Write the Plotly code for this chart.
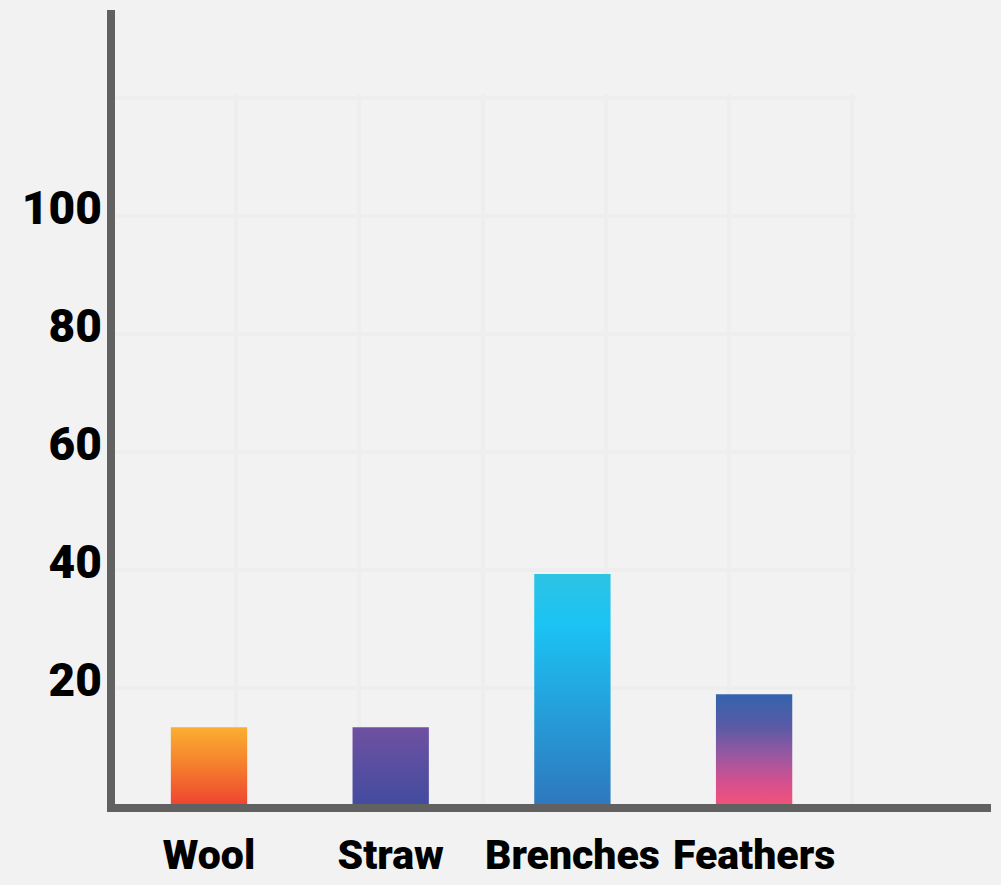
import plotly.graph_objects as go

# ---------------- data ----------------
categories = ["Wool", "Straw", "Brenches", "Feathers"]
values = [13, 13, 39, 18.6]
y_tick_values = [20, 40, 60, 80, 100]
y_tick_labels = ["20", "40", "60", "80", "100"]

# vertical gradients (0 = bottom of bar, 1 = top of bar)
bar_colorscales = [
    [[0, "#EF4531"], [0.5, "#F57E2D"], [1, "#FBAF31"]],
    [[0, "#434C9F"], [1, "#6F50A1"]],
    [[0, "#2E78BE"], [0.45, "#24A3DD"], [0.78, "#1BC3F3"], [1, "#2DC3E5"]],
    [[0, "#F2527A"], [0.2, "#D3508F"], [0.45, "#9858A2"], [0.7, "#5A5AA5"], [1, "#3463AE"]],
]

# ---------------- style ----------------
BG = "#F2F2F2"
AXIS = "#616161"
GRID = "#EEEEEE"
W, H = 1001, 885
L, R, T, B = 115, 10, 10, 81
PW, PH = W - L - R, H - T - B
BAR_WIDTH = 0.42
FAMILY = "Roboto, 'Open Sans', sans-serif"
XFONT = dict(family=FAMILY, size=41, color="#000000", weight=900)
YFONT = dict(family=FAMILY, size=46, color="#000000", weight=900)

fig = go.Figure()

# invisible trace so the decorative grid subplot exists (drawn underneath)
fig.add_trace(go.Scatter(x=[None], y=[None], xaxis="x", yaxis="y",
                         showlegend=False, hoverinfo="skip"))

# gradient bars
for i, (cat, v, cs) in enumerate(zip(categories, values, bar_colorscales)):
    h = BAR_WIDTH / 2
    fig.add_trace(go.Scatter(
        x=[i - h, i + h, i + h, i - h, i - h],
        y=[0, 0, v, v, 0],
        mode="lines", fill="toself",
        fillgradient=dict(type="vertical", colorscale=cs),
        line=dict(width=0, color="rgba(0,0,0,0)"),
        xaxis="x2", yaxis="y2", name=cat, showlegend=False,
        hoverinfo="skip",
    ))

# grid geometry (pixels) -> domains/ranges
gx0, gx1, gstep_x = 113, 856, (852 - 113) / 6
gy0, gy1, gstep_y = 806, 94, (806 - 98) / 6

unit_x = 181.7
first_center = 209
unit_y = 5.9

fig.update_layout(
    width=W, height=H,
    margin=dict(l=L, r=R, t=T, b=B, pad=0, autoexpand=False),
    paper_bgcolor=BG, plot_bgcolor="rgba(0,0,0,0)",
    showlegend=False,
    font=XFONT,
    xaxis=dict(
        domain=[0, (gx1 - L) / PW],
        range=[(L - gx0) / gstep_x, (gx1 - gx0) / gstep_x],
        tick0=0, dtick=1, showgrid=True, gridcolor=GRID, gridwidth=4,
        showticklabels=False, zeroline=False, showline=False, ticks="",
        anchor="y", fixedrange=True, automargin=False,
    ),
    yaxis=dict(
        domain=[0, (H - B - gy1) / PH],
        range=[(gy0 - (H - B)) / gstep_y, (gy0 - gy1) / gstep_y],
        tick0=0, dtick=1, showgrid=True, gridcolor=GRID, gridwidth=4,
        showticklabels=False, zeroline=False, showline=False, ticks="",
        anchor="x", fixedrange=True, automargin=False,
    ),
    xaxis2=dict(
        domain=[0, 1], anchor="y2",
        range=[-(first_center - L) / unit_x, -(first_center - L) / unit_x + PW / unit_x],
        tickmode="array", tickvals=list(range(len(categories))), ticktext=categories,
        tickangle=0,
        showgrid=False, zeroline=False, showline=True, linewidth=8, linecolor=AXIS,
        ticks="", ticklabelstandoff=8, tickfont=XFONT, fixedrange=True, automargin=False,
    ),
    yaxis2=dict(
        domain=[0, 1], anchor="x2",
        range=[0, (H - B - T) / unit_y],
        tickmode="array", tickvals=y_tick_values, ticktext=y_tick_labels,
        showgrid=False, zeroline=False, showline=True, linewidth=8, linecolor=AXIS,
        ticks="", ticklabelstandoff=-4, ticklabelshift=-6, tickfont=YFONT, fixedrange=True,
        automargin=False,
    ),
)

fig.write_html("out.html")
